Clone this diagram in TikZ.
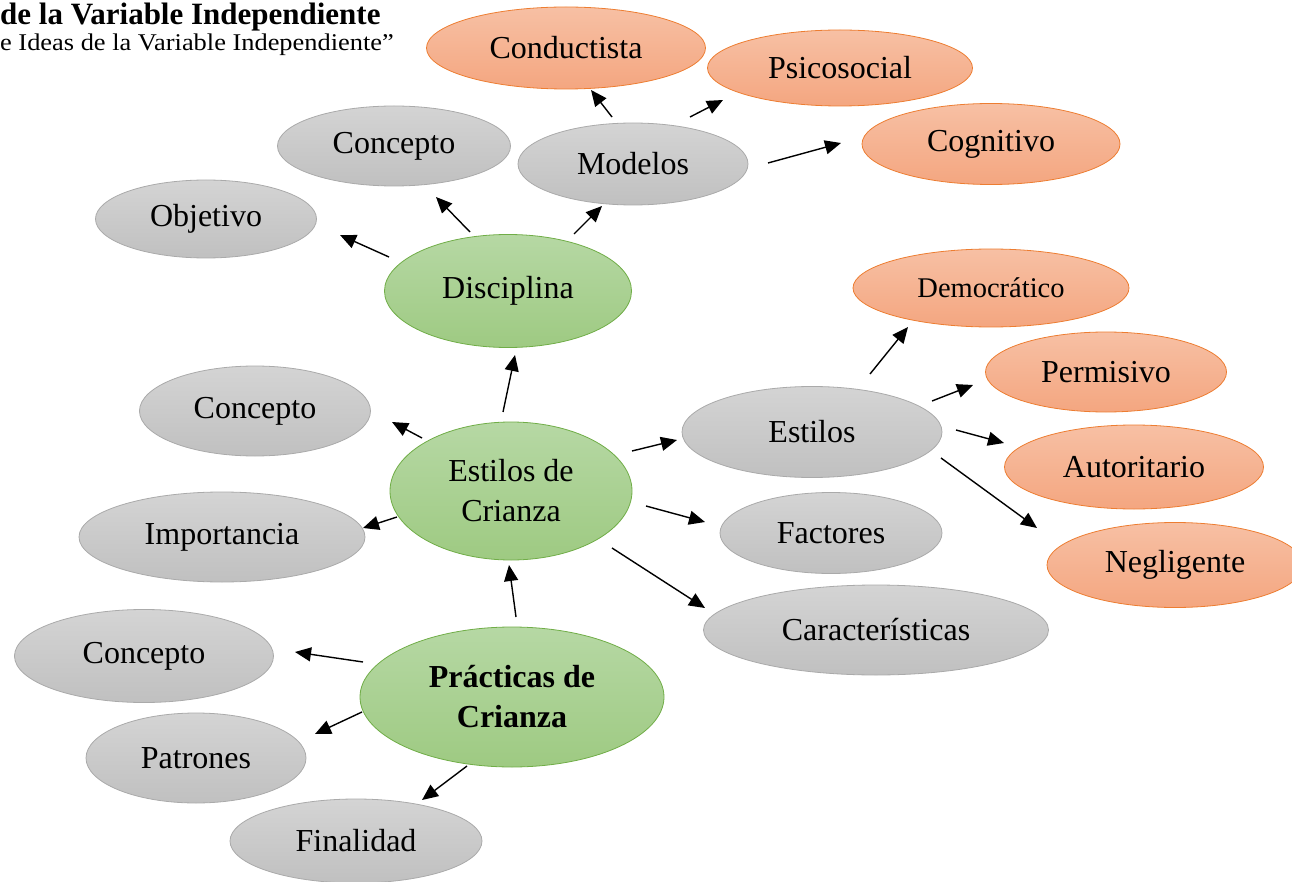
\documentclass[tikz,border=0pt]{standalone}
\usepackage{fontspec}
\setmainfont{Liberation Serif}
\newfontfamily\widerserif[FakeStretch=1.1]{Liberation Serif}
\usetikzlibrary{shapes.geometric,arrows.meta}
\definecolor{greyfillA}{RGB}{212,212,212}
\definecolor{greyfillB}{RGB}{192,192,192}
\definecolor{greyline}{RGB}{170,170,170}
\definecolor{greenfillA}{RGB}{182,216,164}
\definecolor{greenfillB}{RGB}{158,202,130}
\definecolor{greenline}{RGB}{112,173,71}
\definecolor{orangefillA}{RGB}{247,192,164}
\definecolor{orangefillB}{RGB}{244,166,128}
\definecolor{orangeline}{RGB}{237,125,49}
\tikzset{
  bub/.style={ellipse, inner sep=0pt, line width=0.8pt, align=center,
     font=\fontsize{32}{40}\selectfont},
  greybub/.style={bub, draw=greyline, top color=greyfillA, bottom color=greyfillB},
  greenbub/.style={bub, draw=greenline, top color=greenfillA, bottom color=greenfillB},
  orangebub/.style={bub, draw=orangeline, top color=orangefillA, bottom color=orangefillB},
  arr/.style={line width=1.4pt, -{Triangle[length=16pt,width=14pt]}},
  titletext/.style={anchor=base west, inner sep=0pt},
}
\begin{document}
\begin{tikzpicture}[x=1pt,y=-1pt]
\useasboundingbox (0,0) rectangle (1292,882);
% title
\node[titletext, font=\fontsize{31}{36}\selectfont\bfseries] (t1) at (0,25) {de la Variable Independiente};
\node[titletext, font=\widerserif\fontsize{24}{28}\selectfont] (t2) at (0,51) {e Ideas de la Variable Independiente”};
% green
\node[greenbub, minimum width=247pt, minimum height=113pt] (disc) at (508,291) {Disciplina};
\node[greenbub, minimum width=242pt, minimum height=138pt] (edc) at (511,491) {Estilos de\\Crianza};
\node[greenbub, minimum width=304pt, minimum height=140pt, font=\fontsize{32}{40}\selectfont\bfseries] (prac) at (512,697) {Prácticas de\\Crianza};
% grey
\node[greybub, minimum width=233pt, minimum height=80pt] (conc1) at (394,146) {Concepto};
\node[greybub, minimum width=230pt, minimum height=82pt] (mod) at (633,164) {Modelos};
\node[greybub, minimum width=221pt, minimum height=78pt] (obj) at (206,219) {Objetivo};
\node[greybub, minimum width=231pt, minimum height=90pt] (conc2) at (255,411) {Concepto};
\node[greybub, minimum width=286pt, minimum height=90pt] (imp) at (222,537) {Importancia};
\node[greybub, minimum width=260pt, minimum height=91pt] (est) at (812,432) {Estilos};
\node[greybub, minimum width=222pt, minimum height=81pt] (fac) at (831,533) {Factores};
\node[greybub, minimum width=345pt, minimum height=90pt] (car) at (876,630) {Características};
\node[greybub, minimum width=259pt, minimum height=93pt] (conc3) at (144,656) {Concepto};
\node[greybub, minimum width=220pt, minimum height=90pt] (pat) at (196,758) {Patrones};
\node[greybub, minimum width=252pt, minimum height=84pt] (fin) at (356,841) {Finalidad};
% orange
\node[orangebub, minimum width=279pt, minimum height=82pt] (cond) at (566,48) {Conductista};
\node[orangebub, minimum width=265pt, minimum height=76pt] (psi) at (840,68) {Psicosocial};
\node[orangebub, minimum width=258pt, minimum height=81pt] (cog) at (991,144) {Cognitivo};
\node[orangebub, minimum width=276pt, minimum height=78pt, font=\fontsize{28.5}{34}\selectfont] (dem) at (991,288) {Democrático};
\node[orangebub, minimum width=241pt, minimum height=80pt] (per) at (1106,372) {Permisivo};
\node[orangebub, minimum width=259pt, minimum height=84pt] (aut) at (1134,467) {Autoritario};
\node[orangebub, minimum width=256pt, minimum height=85pt] (neg) at (1175,565) {Negligente};
% connector end points
\coordinate (a1s) at (470,232); \coordinate (a1e) at (436,197);
\coordinate (a2s) at (389,257); \coordinate (a2e) at (340,235);
\coordinate (a3s) at (574,234); \coordinate (a3e) at (602,206);
\coordinate (a4s) at (612,117); \coordinate (a4e) at (591,90);
\coordinate (a5s) at (690,117); \coordinate (a5e) at (723,100);
\coordinate (a6s) at (768,163); \coordinate (a6e) at (841,143);
\coordinate (a7s) at (503,412); \coordinate (a7e) at (515,355);
\coordinate (a8s) at (422,438); \coordinate (a8e) at (392,422);
\coordinate (a9s) at (397,517); \coordinate (a9e) at (363,528);
\coordinate (b1s) at (632,451); \coordinate (b1e) at (677,440);
\coordinate (b2s) at (646,506); \coordinate (b2e) at (705,522);
\coordinate (b3s) at (612,548); \coordinate (b3e) at (705,608);
\coordinate (b4s) at (870,374); \coordinate (b4e) at (908,327);
\coordinate (b5s) at (932,401); \coordinate (b5e) at (973,385);
\coordinate (b6s) at (956,430); \coordinate (b6e) at (1004,443);
\coordinate (b7s) at (941,458); \coordinate (b7e) at (1037,528);
\coordinate (c1s) at (516,617); \coordinate (c1e) at (509,565);
\coordinate (c2s) at (363,662); \coordinate (c2e) at (295,652);
\coordinate (c3s) at (362,712); \coordinate (c3e) at (315,734);
\coordinate (c4s) at (467,766); \coordinate (c4e) at (422,800);
% connectors
\draw[arr] (a1s) -- (a1e);
\draw[arr] (a2s) -- (a2e);
\draw[arr] (a3s) -- (a3e);
\draw[arr] (a4s) -- (a4e);
\draw[arr] (a5s) -- (a5e);
\draw[arr] (a6s) -- (a6e);
\draw[arr] (a7s) -- (a7e);
\draw[arr] (a8s) -- (a8e);
\draw[arr] (a9s) -- (a9e);
\draw[arr] (b1s) -- (b1e);
\draw[arr] (b2s) -- (b2e);
\draw[arr] (b3s) -- (b3e);
\draw[arr] (b4s) -- (b4e);
\draw[arr] (b5s) -- (b5e);
\draw[arr] (b6s) -- (b6e);
\draw[arr] (b7s) -- (b7e);
\draw[arr] (c1s) -- (c1e);
\draw[arr] (c2s) -- (c2e);
\draw[arr] (c3s) -- (c3e);
\draw[arr] (c4s) -- (c4e);
\end{tikzpicture}
\end{document}
